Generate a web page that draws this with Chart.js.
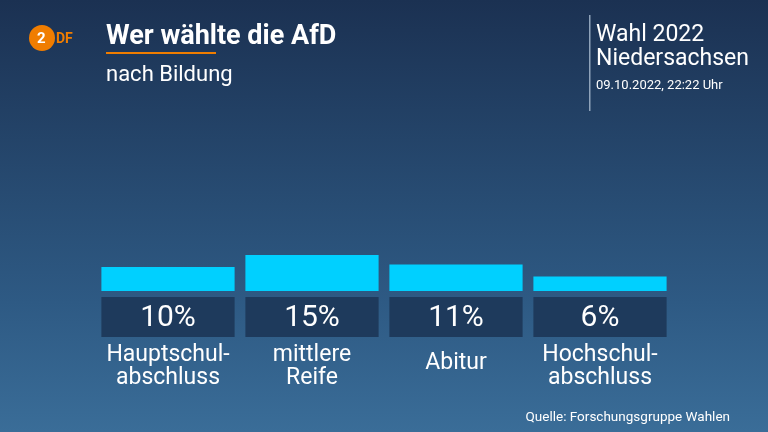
<!DOCTYPE html>
<html><head><meta charset="utf-8">
<script src="https://cdn.jsdelivr.net/npm/chart.js@4"></script>
<style>
html,body{margin:0;padding:0;}
body{width:768px;height:432px;background:linear-gradient(#1b3152,#2e5a84 70%,#3a6d98);}
#wrap{position:relative;width:768px;height:432px;}
</style></head><body>
<div id="wrap"><canvas id="c" width="768" height="432"></canvas></div>
<script>
var categories = [["Hauptschul-", "abschluss"], ["mittlere", "Reife"], ["Abitur"], ["Hochschul-", "abschluss"]];
var values = [10, 15, 11, 6];
var valueLabels = ["10%", "15%", "11%", "6%"];

var overlay = {
  id: 'overlay',
  afterDatasetsDraw: function(chart) {
    var c = chart.ctx, x = chart.scales.x, y = chart.scales.y;
    var base = y.getPixelForValue(0);
    c.save();
    // header
    c.fillStyle = '#f07d00';
    c.beginPath(); c.arc(42, 38, 13, 0, Math.PI * 2); c.fill();
    c.fillStyle = '#fff'; c.font = 'bold 15px Roboto'; c.textBaseline = 'middle';
    c.fillText('2', 37, 39);
    c.fillStyle = '#f07d00'; c.font = 'bold 14px Roboto'; c.fillText('DF', 56, 39);
    c.fillStyle = '#fff'; c.font = 'bold 27px Roboto'; c.textBaseline = 'alphabetic';
    c.fillText('Wer wählte die AfD', 106, 44);
    c.fillStyle = '#f07d00'; c.fillRect(106, 52, 110, 2);
    c.fillStyle = '#fff'; c.font = '22px Roboto'; c.fillText('nach Bildung', 106, 81);
    c.fillStyle = '#8fa3ba'; c.fillRect(589, 15, 1.5, 96);
    c.fillStyle = '#fff'; c.font = '23px Roboto';
    c.fillText('Wahl 2022', 596, 41); c.fillText('Niedersachsen', 596, 65);
    c.font = '13px Roboto'; c.fillText('09.10.2022, 22:22 Uhr', 596, 89);
    c.font = '13.5px Roboto'; c.textAlign = 'right';
    c.fillText('Quelle: Forschungsgruppe Wahlen', 730, 421);
    // value boxes and labels
    c.textAlign = 'center';
    var meta = chart.getDatasetMeta(0);
    meta.data.forEach(function(bar, i) {
      var w = bar.width, cx = bar.x;
      c.fillStyle = '#1e3a5c';
      c.fillRect(cx - w / 2, base + 6, w, 40);
      c.fillStyle = '#fff'; c.font = '30px Roboto'; c.textBaseline = 'middle';
      c.fillText(valueLabels[i], cx, base + 27);
      c.font = '23px Roboto';
      var lines = categories[i];
      var y0 = lines.length === 1 ? base + 72 : base + 64;
      lines.forEach(function(t, k) { c.fillText(t, cx, y0 + k * 23); });
    });
    c.restore();
  }
};

new Chart(document.getElementById('c'), {
  type: 'bar',
  data: {
    labels: categories,
    datasets: [{ data: values, backgroundColor: '#00d0ff', categoryPercentage: 1, barPercentage: 0.925 }]
  },
  options: {
    responsive: false, animation: false,
    layout: { padding: { left: 96, right: 96, top: 171, bottom: 141 } },
    plugins: { legend: { display: false }, tooltip: { enabled: false } },
    scales: {
      x: { display: false },
      y: { display: false, min: 0, max: 50 }
    }
  },
  plugins: [overlay]
});
</script>
</body></html>
